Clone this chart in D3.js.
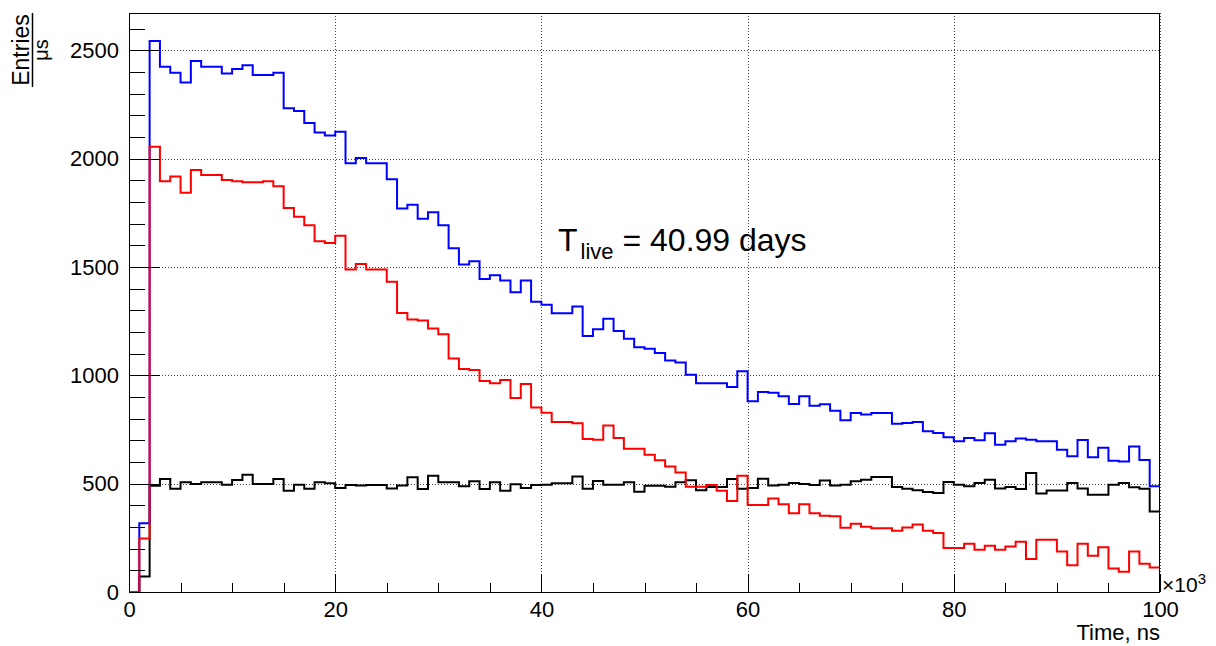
<!DOCTYPE html>
<html><head><meta charset="utf-8">
<script src="https://cdn.jsdelivr.net/npm/d3@7"></script>
<style>
body{margin:0;background:#fff}
text{font-family:"Liberation Sans",Arial,Helvetica,sans-serif;fill:#000}
</style>
</head><body>
<svg id="chart" width="1216" height="646"></svg>
<script>
// Histogram contents, 100 bins of 1 (x10^3 ns) from 0 to 100
const blueValues = [0,317,2543,2424,2396,2351,2450,2424,2424,2393,
2413,2431,2386,2386,2396,2233,2220,2164,2121,2107,
2124,1979,2003,1979,1979,1905,1770,1787,1722,1753,
1693,1586,1511,1526,1445,1462,1437,1383,1437,1339,
1326,1286,1286,1317,1181,1213,1261,1204,1169,1129,
1122,1103,1068,1059,1003,963,963,963,946,1019,
880,923,919,903,868,903,860,867,837,793,
826,819,826,826,776,780,785,742,734,714,
696,711,700,733,680,696,708,703,696,696,
657,626,702,622,666,606,602,671,609,488];
const redValues = [0,247,2055,1896,1917,1842,1948,1924,1924,1901,
1896,1891,1891,1896,1872,1772,1732,1692,1619,1611,
1644,1488,1514,1488,1488,1432,1287,1258,1253,1216,
1189,1078,1029,1024,974,963,978,895,960,852,
827,785,785,779,706,703,768,711,661,661,
633,608,579,551,486,486,494,467,420,537,
401,401,431,405,363,405,363,352,349,297,
315,301,294,294,283,298,311,283,272,203,
203,223,195,214,195,210,232,152,241,241,
187,123,223,167,206,109,93,187,130,113];
const blackValues = [0,71,490,521,477,507,498,507,507,495,
517,541,498,498,521,467,495,476,507,502,
480,494,491,494,494,478,491,529,475,537,
506,506,488,511,475,506,467,497,480,494,
495,502,502,533,476,512,495,495,507,463,
490,490,486,507,516,469,484,484,521,477,
480,523,491,495,503,498,494,514,491,495,
511,518,531,531,485,477,469,462,457,508,
495,488,503,518,478,485,475,549,454,468,
468,503,478,449,449,495,503,483,477,372];
const xMajorTicks = [0,20,40,60,80,100];
const yMajorTicks = [0,500,1000,1500,2000,2500];
const xMinorTicks = d3.range(0,101,5).filter(v => v % 20 !== 0);
const yMinorTicks = d3.range(0,2601,100).filter(v => v % 500 !== 0);
const seriesColors = {black:"#000000", blue:"#0000ff", red:"#ff0000"};

const svg = d3.select("#chart");
const L = 129, R = 1160, T = 13, B = 592;
const x = d3.scaleLinear().domain([0,100]).range([L,R]);
const y = d3.scaleLinear().domain([0,2672]).range([B,T]);

// grid
const grid = svg.append("g").attr("stroke","#444").attr("stroke-width",1)
  .attr("stroke-dasharray","1,2").attr("shape-rendering","crispEdges");
xMajorTicks.forEach(v => grid.append("line")
  .attr("x1",Math.round(x(v))+0.5).attr("x2",Math.round(x(v))+0.5).attr("y1",T).attr("y2",B));
yMajorTicks.forEach(v => grid.append("line")
  .attr("x1",L).attr("x2",R).attr("y1",Math.round(y(v))+0.5).attr("y2",Math.round(y(v))+0.5));

// histograms
function stepPath(vals){
  let p = `M${x(0)},${y(vals[0])}`;
  vals.forEach((v,i)=>{
    if(i>0) p += `V${y(v)}`;
    p += `H${x(i+1)}`;
  });
  return p;
}
[["black",blackValues],["blue",blueValues],["red",redValues]].forEach(([k,vals])=>{
  svg.append("path").attr("d",stepPath(vals)).attr("fill","none")
    .attr("stroke",seriesColors[k]).attr("stroke-width",2);
});

// axes
const fs = 22;
const xAx = svg.append("g").attr("transform",`translate(0,${B})`)
  .call(d3.axisBottom(x).tickValues(xMajorTicks).tickSize(-18).tickPadding(9).tickFormat(d3.format("d")));
const xAxMin = svg.append("g").attr("transform",`translate(0,${B})`)
  .call(d3.axisBottom(x).tickValues(xMinorTicks).tickSize(-9).tickFormat(""));
const yAx = svg.append("g").attr("transform",`translate(${L},0)`)
  .call(d3.axisLeft(y).tickValues(yMajorTicks).tickSize(-31).tickPadding(10).tickFormat(d3.format("d")));
const yAxMin = svg.append("g").attr("transform",`translate(${L},0)`)
  .call(d3.axisLeft(y).tickValues(yMinorTicks).tickSize(-16).tickFormat(""));
[xAx,xAxMin,yAx,yAxMin].forEach(g=>{
  g.select(".domain").remove();
  g.selectAll("line").attr("stroke","#000").attr("stroke-width",1).attr("shape-rendering","crispEdges");
  g.selectAll("text").attr("font-size",fs).attr("font-family","Liberation Sans, Arial, sans-serif").attr("fill","#000");
});

// frame
svg.append("rect").attr("x",L+0.5).attr("y",T+0.5).attr("width",R-L-1).attr("height",B-T)
  .attr("fill","none").attr("stroke","#000").attr("stroke-width",1).attr("shape-rendering","crispEdges");

// x exponent
const ex = svg.append("text").attr("x",1162).attr("y",592).attr("font-size",21);
ex.append("tspan").text("×10");
ex.append("tspan").attr("dy",-8).attr("font-size",15).text("3");

// axis titles
svg.append("text").attr("x",R).attr("y",640).attr("text-anchor","end").attr("font-size",22).text("Time, ns");
svg.append("text").attr("transform","translate(29,50) rotate(-90)").attr("text-anchor","middle")
  .attr("font-size",23).text("Entries");
svg.append("line").attr("x1",32.5).attr("x2",32.5).attr("y1",13).attr("y2",87)
  .attr("stroke","#000").attr("stroke-width",1.5);
svg.append("text").attr("transform","translate(48,50) rotate(-90)").attr("text-anchor","middle")
  .attr("font-size",20).text("μs");

// annotation
const ann = svg.append("text").attr("x",558).attr("y",251).attr("font-size",32);
ann.append("tspan").text("T");
ann.append("tspan").attr("dx",3).attr("dy",8).attr("font-size",22).text("live");
ann.append("tspan").attr("dy",-8).text(" = 40.99 days");
</script>
</body></html>
